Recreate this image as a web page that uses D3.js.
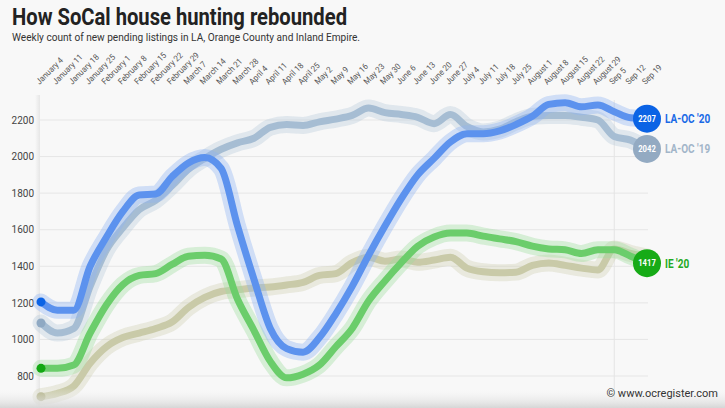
<!DOCTYPE html>
<html>
<head>
<meta charset="utf-8">
<script src="https://cdn.jsdelivr.net/npm/d3@7"></script>
<style>
  html, body { margin: 0; padding: 0; background: #f8f8f8; }
  svg { display: block; font-family: Roboto, "Noto Sans", sans-serif; }
</style>
</head>
<body>
<svg id="chart" width="725" height="408"></svg>
<script>
const weeks = ["January 4","January 11","January 18","January 25","February 1","February 8","February 15","February 22","February 29","March 7","March 14","March 21","March 28","April 4","April 11","April 18","April 25","May 2","May 9","May 16","May 23","May 30","June 6","June 13","June 20","June 27","July 4","July 11","July 18","July 25","August 1","August 8","August 15","August 22","August 29","Sep 5","Sep 12","Sep 19"];

const laoc20 = [1205,1160,1160,1400,1560,1700,1790,1795,1890,1965,1995,1935,1620,1330,1060,950,930,1010,1140,1290,1460,1620,1770,1900,1990,2080,2125,2125,2140,2175,2220,2285,2295,2272,2282,2245,2212,2207];
const laoc19 = [1090,1035,1060,1290,1490,1610,1710,1760,1840,1930,1990,2040,2075,2100,2160,2175,2170,2190,2205,2225,2265,2240,2230,2215,2180,2230,2165,2135,2150,2190,2220,2225,2225,2215,2200,2110,2090,2042];
const ie20 = [842,842,860,1035,1190,1300,1350,1360,1410,1455,1460,1440,1220,1050,880,790,810,860,960,1060,1210,1320,1420,1510,1560,1582,1582,1565,1550,1535,1510,1495,1490,1470,1490,1490,1455,1417];
const ie19 = [687,705,745,870,960,1010,1035,1060,1095,1175,1230,1262,1272,1281,1287,1298,1312,1350,1360,1420,1450,1428,1440,1422,1434,1450,1390,1370,1365,1368,1405,1418,1405,1390,1380,1495,1470,1450];

const yTicks = [800,1000,1200,1400,1600,1800,2000,2200];
const seriesNames = ["IE '19","LA-OC '19","IE '20","LA-OC '20"];
const markerWeek = "Sep 5";

const title = "How SoCal house hunting rebounded";
const subtitle = "Weekly count of new pending listings in LA, Orange County and Inland Empire.";
const credit = "© www.ocregister.com";

const svg = d3.select("#chart");

const x = d3.scalePoint().domain(weeks).range([41, 647]);
const y = d3.scaleLinear().domain([800, 2200]).range([376, 120]);

function condense(sel, f) {
  sel.each(function() {
    const w = this.getComputedTextLength();
    d3.select(this).attr("textLength", w * f).attr("lengthAdjust", "spacingAndGlyphs");
  });
}

// defs
const defs = svg.append("defs");
const bg = defs.append("linearGradient").attr("id","bottomShade").attr("x1",0).attr("x2",0).attr("y1",0).attr("y2",1);
bg.append("stop").attr("offset","0%").attr("stop-color","#f8f8f8").attr("stop-opacity",0);
bg.append("stop").attr("offset","100%").attr("stop-color","#d6d6d6").attr("stop-opacity",1);
const lg = defs.append("linearGradient").attr("id","leftShade").attr("x1",0).attr("x2",1).attr("y1",0).attr("y2",0);
lg.append("stop").attr("offset","0%").attr("stop-color","#e6e6e6").attr("stop-opacity",0);
lg.append("stop").attr("offset","100%").attr("stop-color","#e6e6e6").attr("stop-opacity",1);

svg.append("rect").attr("width",725).attr("height",408).attr("fill","#f8f8f8");

// left shade
svg.append("rect").attr("x",35).attr("y",95).attr("width",5).attr("height",313).attr("fill","url(#leftShade)");

// gridlines
svg.append("g").selectAll("line").data(yTicks).join("line")
  .attr("x1",40).attr("x2",648)
  .attr("y1",d=>y(d)).attr("y2",d=>y(d))
  .attr("stroke","#e6e6e6").attr("stroke-width",1);

// vertical marker
svg.append("line")
  .attr("x1",x(markerWeek)).attr("x2",x(markerWeek))
  .attr("y1",100).attr("y2",400)
  .attr("stroke","#e4e4e4").attr("stroke-width",1);

// y axis
const yAxis = d3.axisLeft(y).tickValues(yTicks).tickSize(0).tickPadding(0).tickFormat(d3.format("d"));
const yg = svg.append("g").attr("transform","translate(34,0)").call(yAxis);
yg.select(".domain").remove();
yg.selectAll("text").attr("fill","#444").attr("font-size","10px").attr("font-family","Roboto, sans-serif");

// x axis (top, rotated)
const xAxis = d3.axisTop(x).tickSize(0).tickPadding(0);
const xg = svg.append("g").attr("transform","translate(0,85)").call(xAxis);
xg.select(".domain").remove();
xg.selectAll("text")
  .attr("text-anchor","start")
  .attr("dy","0")
  .attr("transform","translate(-2,0) rotate(-45)")
  .attr("fill","#555").attr("font-size","8.5px").attr("font-family","Roboto, sans-serif");
condense(xg.selectAll("text"), 0.92);

// lines
const series = [
  {name: seriesNames[0], values: ie19, line: "#c9caa8", halo: "#cfd0b4", dot: "#aeae82"},
  {name: seriesNames[1], values: laoc19, line: "#a6bdd3", halo: "#b9cadb", dot: "#8fa9c3"},
  {name: seriesNames[2], values: ie20, line: "#6bcd6b", halo: "#9fdd9f", dot: "#12a812"},
  {name: seriesNames[3], values: laoc20, line: "#5c92ee", halo: "#8fb3f2", dot: "#0b63e5"}
];

const lineGen = d3.line().x((d,i)=>x(weeks[i])).y(d=>y(d)).curve(d3.curveMonotoneX);

series.forEach(s => {
  const g = svg.append("g");
  g.append("path").attr("d", lineGen(s.values)).attr("fill","none")
    .attr("stroke", s.halo).attr("stroke-opacity",0.38).attr("stroke-width",17)
    .attr("stroke-linejoin","round").attr("stroke-linecap","round");
  g.append("path").attr("d", lineGen(s.values)).attr("fill","none")
    .attr("stroke", s.line).attr("stroke-width",7)
    .attr("stroke-linejoin","round").attr("stroke-linecap","round");
  g.append("circle").attr("cx", x(weeks[0])).attr("cy", y(s.values[0])).attr("r",4.5).attr("fill", s.dot);
});

// end labels
const ends = [
  {s: series[3], circle: "#0b63e5", text: "#1a6ae6"},
  {s: series[1], circle: "#93aac2", text: "#a2b5c9"},
  {s: series[2], circle: "#17ab17", text: "#22aa22"}
];
ends.forEach(e => {
  const last = e.s.values[e.s.values.length-1];
  const cx = x(weeks[weeks.length-1]), cy = y(last);
  svg.append("circle").attr("cx",cx).attr("cy",cy).attr("r",14).attr("fill",e.circle);
  const num = svg.append("text").attr("x",cx).attr("y",cy).attr("dy","0.35em")
    .attr("text-anchor","middle").attr("fill","#fff").attr("font-size","9px").attr("font-weight","bold")
    .text(last);
  condense(num, 0.85);
  const lab = svg.append("text").attr("x",cx+18).attr("y",cy).attr("dy","0.36em")
    .attr("fill",e.text).attr("font-size","12.5px").attr("font-weight","bold")
    .text(e.s.name);
  condense(lab, 0.8);
});

// bottom shade
svg.append("rect").attr("x",0).attr("y",388).attr("width",725).attr("height",20).attr("fill","url(#bottomShade)");

// title
svg.append("text").attr("x",12).attr("y",25).attr("font-size","23px").attr("font-weight","bold")
  .attr("fill","#222").attr("textLength",335).attr("lengthAdjust","spacingAndGlyphs").text(title);
svg.append("text").attr("x",12).attr("y",41).attr("font-size","11.5px")
  .attr("fill","#333").attr("textLength",348).attr("lengthAdjust","spacingAndGlyphs").text(subtitle);

// credit
svg.append("text").attr("x",718).attr("y",397).attr("text-anchor","end").attr("font-size","11px")
  .attr("fill","#333").text(credit);
</script>
</body>
</html>
